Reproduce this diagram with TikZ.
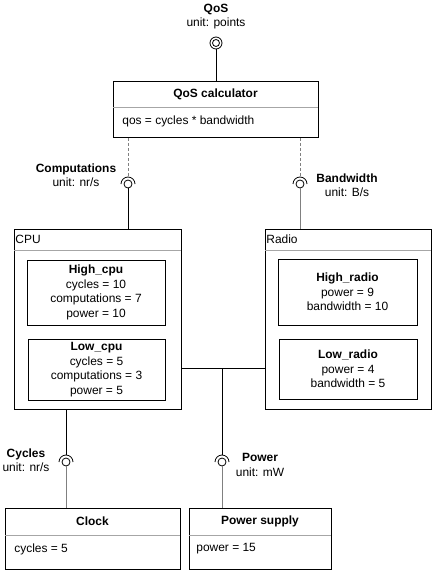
\documentclass[tikz,border=0pt]{standalone}
\usepackage{fontspec}
\setmainfont{Liberation Sans}
\newcommand\diafont{\fontsize{12}{14.5}\selectfont}
\begin{document}
\begin{tikzpicture}[x=1bp,y=-1bp,font=\diafont,line width=0.8bp,
    box/.style={draw,inner sep=0pt,anchor=north west},
    part/.style={draw,align=center,inner sep=0pt},
    title/.style={font=\diafont\bfseries,inner sep=0pt},
    body/.style={anchor=west,inner sep=0pt},
    lbl/.style={align=center,inner sep=0pt},
    sep/.style={gray!70},
    ball/.style={circle,draw,minimum size=8bp,inner sep=0pt},
    feed/.style={gray},
    need/.style={gray,dash pattern=on 3bp off 2bp}]
    \useasboundingbox (0,0) rectangle (432,570);
    \node[box,minimum width=205bp,minimum height=56bp] (qoscalc) at (113,81) {};
    \draw[sep] (113,107) -- (318,107);
    \node[title] at (215.5,94) {QoS calculator};
    \node[body] at (122,121) {qos = cycles * bandwidth};
    \node[box,minimum width=167bp,minimum height=180bp] (cpu) at (14,229) {};
    \draw[sep] (14,250) -- (181,250);
    \node[body] at (15,239) {CPU};
    \node[part,minimum width=138bp,minimum height=65bp] (highcpu) at (96,292.5) {\textbf{High\_cpu}\\cycles = 10\\computations = 7\\power = 10};
    \node[part,minimum width=137bp,minimum height=61bp] (lowcpu) at (96.5,369.5) {\textbf{Low\_cpu}\\cycles = 5\\computations = 3\\power = 5};
    \node[box,minimum width=166bp,minimum height=180bp] (radio) at (265,229) {};
    \draw[sep] (265,250) -- (431,250);
    \node[body] at (266,239) {Radio};
    \node[part,minimum width=139bp,minimum height=66bp] (highradio) at (347.5,292) {\textbf{High\_radio}\\power = 9\\bandwidth = 10};
    \node[part,minimum width=138bp,minimum height=60bp] (lowradio) at (348,369) {\textbf{Low\_radio}\\power = 4\\bandwidth = 5};
    \node[box,minimum width=175bp,minimum height=61bp] (clock) at (5,508) {};
    \draw[sep] (5,535) -- (180,535);
    \node[title] at (92.5,521) {Clock};
    \node[body] at (14,549) {cycles = 5};
    \node[box,minimum width=142bp,minimum height=61bp] (supply) at (189,508) {};
    \draw[sep] (189,535) -- (331,535);
    \node[title] at (260,521) {Power supply};
    \node[body] at (196,549) {power = 15};
    \node[circle,draw,minimum size=12bp,inner sep=0pt] (qos) at (216,43) {};
    \draw (qos.center) circle[radius=3.5];
    \node[lbl] (qoslbl) at (216,16.5) {\textbf{QoS}\\unit: points};
    \draw (qos.south) -- (qos.south |- qoscalc.north);
    \node[ball] (comp) at (128,184) {};
    \draw ([xshift=-7bp]comp.center) arc[start angle=180,end angle=360,radius=7];
    \node[lbl] (complbl) at (76,175.5) {\textbf{Computations}\\unit: nr/s};
    \draw[need] (qoscalc.south -| comp) -- ([yshift=7bp]comp.center);
    \draw (comp.south) -- (comp.south |- cpu.north);
    \node[ball] (bw) at (300,184) {};
    \draw ([xshift=-7bp]bw.center) arc[start angle=180,end angle=360,radius=7];
    \node[lbl] (bwlbl) at (347,185.5) {\textbf{Bandwidth}\\unit: B/s};
    \draw[need] (qoscalc.south -| bw) -- ([yshift=7bp]bw.center);
    \draw[feed] (bw.south) -- (bw.south |- radio.north);
    \node[ball] (cyc) at (66,462) {};
    \draw ([xshift=-7bp]cyc.center) arc[start angle=180,end angle=360,radius=7];
    \node[lbl] (cyclbl) at (26,460) {\textbf{Cycles}\\unit: nr/s};
    \draw (cpu.south -| cyc) -- ([yshift=7bp]cyc.center);
    \draw[feed] (cyc.south) -- (cyc.south |- clock.north);
    \node[ball] (pwr) at (222,462) {};
    \draw ([xshift=-7bp]pwr.center) arc[start angle=180,end angle=360,radius=7];
    \node[lbl] (pwrlbl) at (260,465) {\textbf{Power}\\unit: mW};
    \coordinate (joint) at (222,368);
    \draw (cpu.east |- joint) -- (radio.west |- joint);
    \draw (joint) -- ([yshift=7bp]pwr.center);
    \draw[feed] (pwr.south) -- (pwr.south |- supply.north);
\end{tikzpicture}
\end{document}
